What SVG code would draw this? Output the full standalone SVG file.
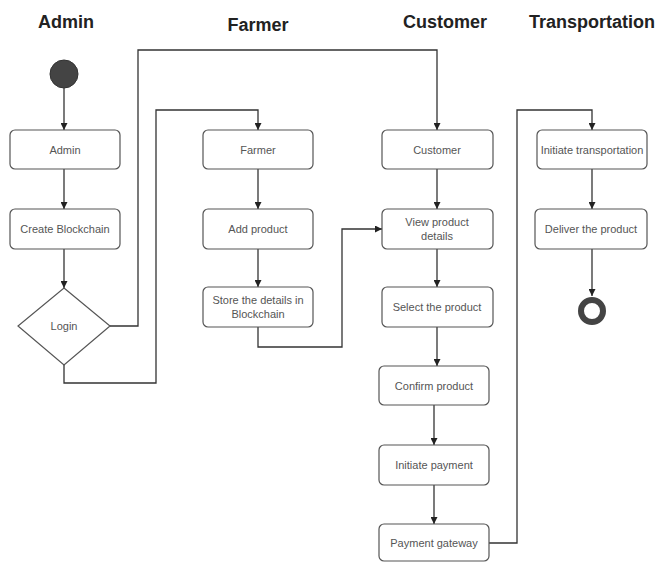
<svg xmlns="http://www.w3.org/2000/svg" width="659" height="563" viewBox="0 0 659 563">
<style>
.title{font-family:"Liberation Sans",Arial,sans-serif;font-size:18px;font-weight:bold;fill:#222;text-anchor:middle}
.box{fill:#fff;stroke:#555;stroke-width:1.2}
.lbl{font-family:"Liberation Sans",Arial,sans-serif;font-size:11px;fill:#555;text-anchor:middle;dominant-baseline:central}
.edge{fill:none;stroke:#333;stroke-width:1.3}
</style>
<defs>
<marker id="arr" viewBox="0 0 10 10" refX="10" refY="5" markerWidth="7" markerHeight="7" markerUnits="userSpaceOnUse" orient="auto">
<path d="M0,0 L10,5 L0,10 z" fill="#222"/>
</marker>
</defs>
<rect width="659" height="563" fill="#fff"/>
<g id="titles">
<text class="title" x="66" y="28">Admin</text>
<text class="title" x="258" y="31">Farmer</text>
<text class="title" x="445" y="28">Customer</text>
<text class="title" x="592" y="28">Transportation</text>
</g>
<g id="connectors">
<path class="edge" marker-end="url(#arr)" d="M64,88 L64,130"/>
<path class="edge" marker-end="url(#arr)" d="M64,169 L64,209"/>
<path class="edge" marker-end="url(#arr)" d="M64,249 L64,288"/>
<path class="edge" marker-end="url(#arr)" d="M110,326 L138,326 L138,50 L437,50 L437,130"/>
<path class="edge" marker-end="url(#arr)" d="M64,365 L64,383 L156,383 L156,110 L258,110 L258,130"/>
<path class="edge" marker-end="url(#arr)" d="M258,169 L258,209"/>
<path class="edge" marker-end="url(#arr)" d="M258,249 L258,287"/>
<path class="edge" marker-end="url(#arr)" d="M258,327 L258,347 L342,347 L342,229 L382,229"/>
<path class="edge" marker-end="url(#arr)" d="M437,169 L437,209"/>
<path class="edge" marker-end="url(#arr)" d="M437,249 L437,287"/>
<path class="edge" marker-end="url(#arr)" d="M437,327 L437,366"/>
<path class="edge" marker-end="url(#arr)" d="M434,405 L434,445"/>
<path class="edge" marker-end="url(#arr)" d="M434,485 L434,524"/>
<path class="edge" marker-end="url(#arr)" d="M489,543 L517,543 L517,110 L592,110 L592,130"/>
<path class="edge" marker-end="url(#arr)" d="M592,169 L592,209"/>
<path class="edge" marker-end="url(#arr)" d="M592,249 L592,296"/>
</g>
<g id="start"><circle cx="64" cy="74" r="14" fill="#444" stroke="#333" stroke-width="1"/></g>
<g id="admin"><rect class="box" x="10" y="130" width="110" height="39" rx="5"/><text class="lbl" x="65" y="150">Admin</text></g>
<g id="create-blockchain"><rect class="box" x="10" y="209" width="110" height="40" rx="5"/><text class="lbl" x="65" y="229">Create Blockchain</text></g>
<g id="login"><polygon class="box" points="64,288 110,326 64,365 18,326"/><text class="lbl" x="64" y="326">Login</text></g>
<g id="farmer"><rect class="box" x="203" y="130" width="110" height="39" rx="5"/><text class="lbl" x="258" y="150">Farmer</text></g>
<g id="add-product"><rect class="box" x="203" y="209" width="110" height="40" rx="5"/><text class="lbl" x="258" y="229">Add product</text></g>
<g id="store-details"><rect class="box" x="203" y="287" width="110" height="40" rx="5"/><text class="lbl" x="258" y="300">Store the details in</text><text class="lbl" x="258" y="314">Blockchain</text></g>
<g id="customer"><rect class="box" x="382" y="130" width="111" height="39" rx="5"/><text class="lbl" x="437" y="150">Customer</text></g>
<g id="view-product"><rect class="box" x="382" y="209" width="111" height="40" rx="5"/><text class="lbl" x="437" y="222">View product</text><text class="lbl" x="437" y="236">details</text></g>
<g id="select-product"><rect class="box" x="382" y="287" width="111" height="40" rx="5"/><text class="lbl" x="437" y="307">Select the product</text></g>
<g id="confirm-product"><rect class="box" x="379" y="366" width="110" height="39" rx="5"/><text class="lbl" x="434" y="386">Confirm product</text></g>
<g id="initiate-payment"><rect class="box" x="379" y="445" width="110" height="40" rx="5"/><text class="lbl" x="434" y="465">Initiate payment</text></g>
<g id="payment-gateway"><rect class="box" x="379" y="524" width="110" height="37" rx="5"/><text class="lbl" x="434" y="543">Payment gateway</text></g>
<g id="initiate-transportation"><rect class="box" x="537" y="130" width="110" height="39" rx="5"/><text class="lbl" x="592" y="150">Initiate transportation</text></g>
<g id="deliver-product"><rect class="box" x="535" y="209" width="112" height="40" rx="5"/><text class="lbl" x="591" y="229">Deliver the product</text></g>
<g id="end"><circle cx="592" cy="311" r="11" fill="#fff" stroke="#444" stroke-width="6"/></g>
</svg>
